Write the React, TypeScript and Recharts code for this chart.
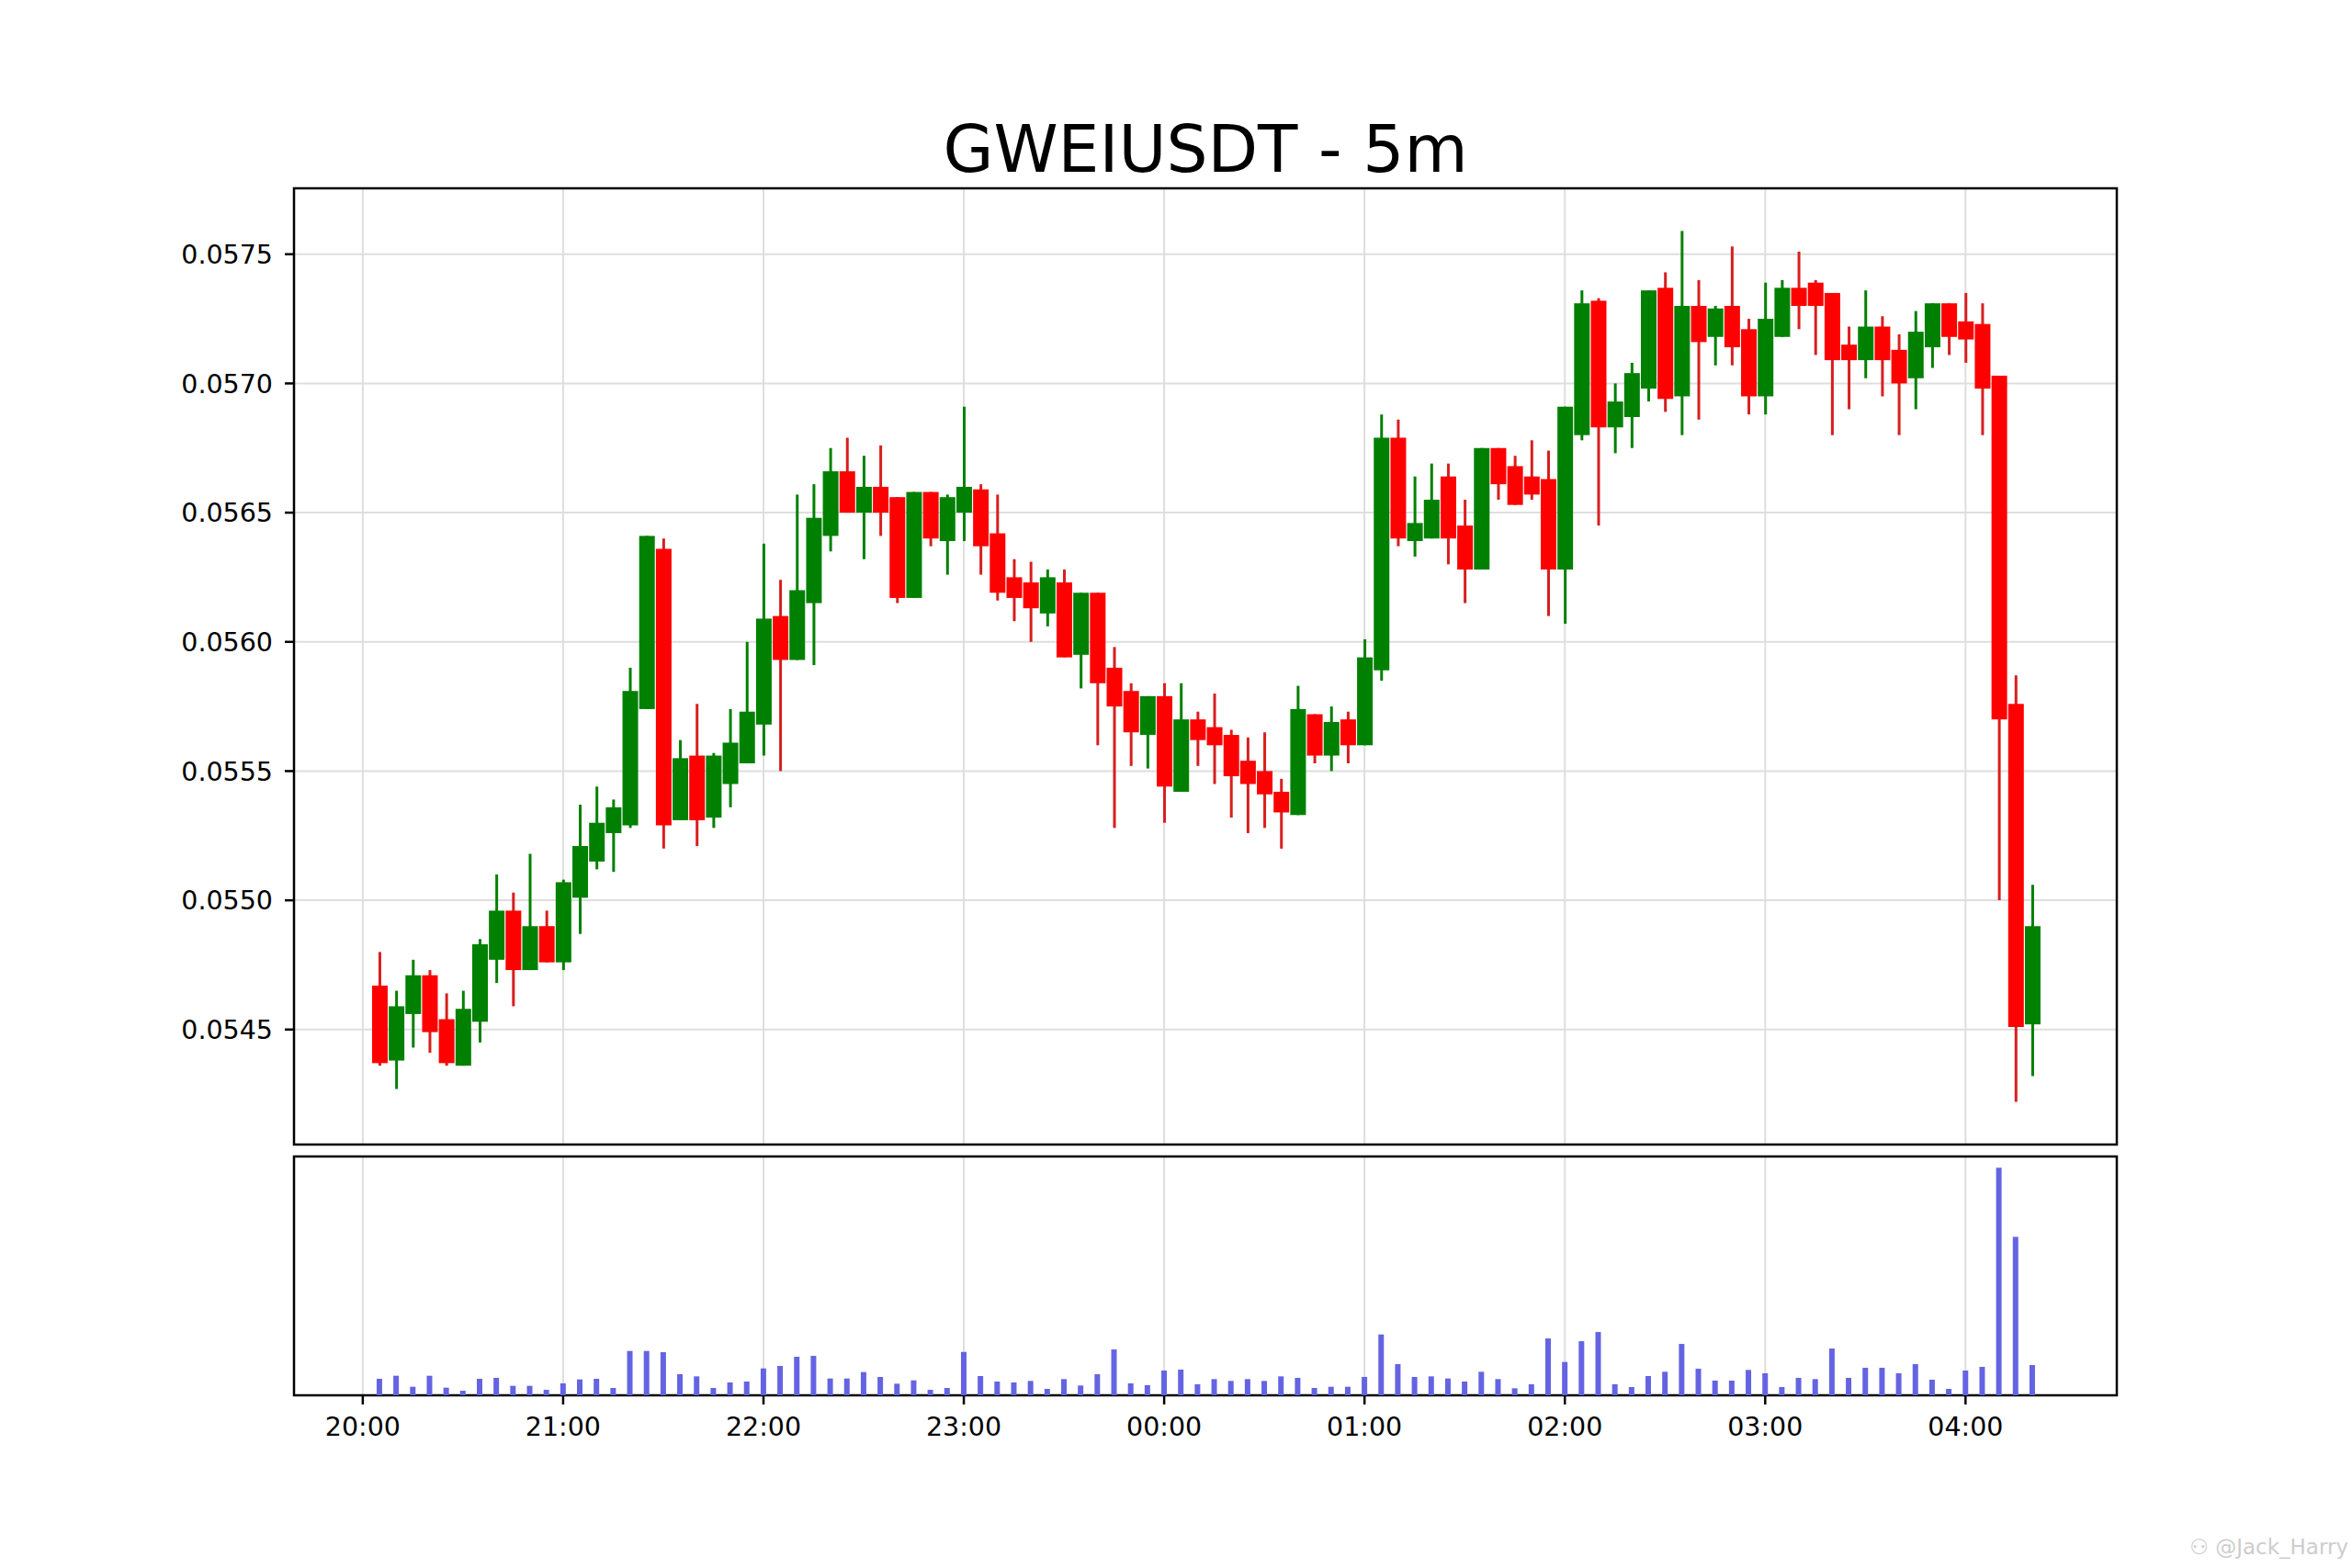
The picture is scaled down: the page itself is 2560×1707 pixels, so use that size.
import { ComposedChart, Bar, XAxis, YAxis, CartesianGrid, ReferenceArea } from 'recharts';

// 5-minute candles, 20:05 -> 04:20 (index 1..100)
const opens = [
  0.05467, 0.05438, 0.05456, 0.05471, 0.05454, 0.05436, 0.05453, 0.05477, 0.05496, 0.05473,
  0.05490, 0.05476, 0.05501, 0.05515, 0.05526, 0.05529, 0.05574, 0.05636, 0.05531, 0.05556,
  0.05532, 0.05545, 0.05553, 0.05568, 0.05610, 0.05593, 0.05615, 0.05641, 0.05666, 0.05650,
  0.05660, 0.05656, 0.05617, 0.05658, 0.05639, 0.05650, 0.05659, 0.05642, 0.05625, 0.05623,
  0.05611, 0.05623, 0.05595, 0.05619, 0.05590, 0.05581, 0.05564, 0.05579, 0.05542, 0.05570,
  0.05567, 0.05564, 0.05554, 0.05550, 0.05542, 0.05533, 0.05572, 0.05556, 0.05570, 0.05560,
  0.05589, 0.05679, 0.05639, 0.05640, 0.05664, 0.05645, 0.05628, 0.05675, 0.05668, 0.05664,
  0.05663, 0.05628, 0.05680, 0.05732, 0.05683, 0.05687, 0.05698, 0.05737, 0.05695, 0.05730,
  0.05718, 0.05730, 0.05721, 0.05695, 0.05718, 0.05737, 0.05739, 0.05735, 0.05715, 0.05709,
  0.05722, 0.05713, 0.05702, 0.05714, 0.05731, 0.05724, 0.05723, 0.05703, 0.05576, 0.05452,
];
const highs = [
  0.05480, 0.05465, 0.05477, 0.05473, 0.05464, 0.05465, 0.05485, 0.05510, 0.05503, 0.05518,
  0.05496, 0.05508, 0.05537, 0.05544, 0.05539, 0.05590, 0.05641, 0.05640, 0.05562, 0.05576,
  0.05557, 0.05574, 0.05600, 0.05638, 0.05624, 0.05657, 0.05661, 0.05675, 0.05679, 0.05672,
  0.05676, 0.05656, 0.05658, 0.05658, 0.05657, 0.05691, 0.05661, 0.05657, 0.05632, 0.05631,
  0.05628, 0.05628, 0.05619, 0.05619, 0.05598, 0.05584, 0.05579, 0.05584, 0.05584, 0.05573,
  0.05580, 0.05566, 0.05563, 0.05565, 0.05547, 0.05583, 0.05572, 0.05575, 0.05573, 0.05601,
  0.05688, 0.05686, 0.05664, 0.05669, 0.05669, 0.05655, 0.05675, 0.05675, 0.05672, 0.05678,
  0.05674, 0.05691, 0.05736, 0.05733, 0.05700, 0.05708, 0.05736, 0.05743, 0.05759, 0.05740,
  0.05730, 0.05753, 0.05725, 0.05739, 0.05740, 0.05751, 0.05740, 0.05735, 0.05722, 0.05736,
  0.05726, 0.05719, 0.05728, 0.05731, 0.05731, 0.05735, 0.05731, 0.05703, 0.05587, 0.05506,
];
const lows = [
  0.05436, 0.05427, 0.05443, 0.05441, 0.05436, 0.05436, 0.05445, 0.05468, 0.05459, 0.05473,
  0.05476, 0.05473, 0.05487, 0.05512, 0.05511, 0.05528, 0.05574, 0.05520, 0.05531, 0.05521,
  0.05528, 0.05536, 0.05553, 0.05556, 0.05550, 0.05593, 0.05591, 0.05635, 0.05650, 0.05632,
  0.05641, 0.05615, 0.05617, 0.05637, 0.05626, 0.05639, 0.05626, 0.05616, 0.05608, 0.05600,
  0.05606, 0.05594, 0.05582, 0.05560, 0.05528, 0.05552, 0.05551, 0.05530, 0.05542, 0.05552,
  0.05545, 0.05532, 0.05526, 0.05528, 0.05520, 0.05533, 0.05553, 0.05550, 0.05553, 0.05560,
  0.05585, 0.05637, 0.05633, 0.05640, 0.05630, 0.05615, 0.05628, 0.05655, 0.05653, 0.05655,
  0.05610, 0.05607, 0.05678, 0.05645, 0.05673, 0.05675, 0.05693, 0.05689, 0.05680, 0.05686,
  0.05707, 0.05707, 0.05688, 0.05688, 0.05718, 0.05721, 0.05711, 0.05680, 0.05690, 0.05702,
  0.05695, 0.05680, 0.05690, 0.05706, 0.05711, 0.05708, 0.05680, 0.05500, 0.05422, 0.05432,
];
const closes = [
  0.05437, 0.05459, 0.05471, 0.05449, 0.05437, 0.05458, 0.05483, 0.05496, 0.05473, 0.05490,
  0.05476, 0.05507, 0.05521, 0.05530, 0.05536, 0.05581, 0.05641, 0.05529, 0.05555, 0.05531,
  0.05556, 0.05561, 0.05573, 0.05609, 0.05593, 0.05620, 0.05648, 0.05666, 0.05650, 0.05660,
  0.05650, 0.05617, 0.05658, 0.05640, 0.05656, 0.05660, 0.05637, 0.05619, 0.05617, 0.05613,
  0.05625, 0.05594, 0.05619, 0.05584, 0.05575, 0.05565, 0.05579, 0.05544, 0.05570, 0.05562,
  0.05560, 0.05548, 0.05545, 0.05541, 0.05534, 0.05574, 0.05556, 0.05569, 0.05560, 0.05594,
  0.05679, 0.05640, 0.05646, 0.05655, 0.05640, 0.05628, 0.05675, 0.05661, 0.05653, 0.05657,
  0.05628, 0.05691, 0.05731, 0.05683, 0.05693, 0.05704, 0.05736, 0.05694, 0.05730, 0.05716,
  0.05729, 0.05714, 0.05695, 0.05725, 0.05737, 0.05730, 0.05730, 0.05709, 0.05709, 0.05722,
  0.05709, 0.05700, 0.05720, 0.05731, 0.05718, 0.05717, 0.05698, 0.05570, 0.05451, 0.05490,
];
const volumes = [
  54, 64, 28, 64, 25, 15, 54, 57, 31, 31,
  18, 39, 52, 54, 24, 145, 145, 141, 69, 62,
  24, 42, 45, 88, 96, 126, 129, 55, 55, 76,
  60, 38, 49, 18, 24, 142, 63, 45, 42, 47,
  21, 53, 32, 69, 150, 39, 33, 81, 84, 36,
  53, 47, 53, 47, 62, 57, 24, 28, 28, 60,
  199, 102, 60, 62, 55, 45, 77, 53, 23, 36,
  186, 109, 177, 207, 36, 27, 63, 77, 168, 87,
  48, 48, 83, 72, 27, 57, 53, 153, 57, 90,
  90, 72, 102, 51, 21, 81, 93, 744, 518, 99,
];

const tickIdx = [0, 12, 24, 36, 48, 60, 72, 84, 96];
const tickLabels = ['20:00', '21:00', '22:00', '23:00', '00:00', '01:00', '02:00', '03:00', '04:00'];
const priceTicks = [0.0545, 0.055, 0.0555, 0.056, 0.0565, 0.057, 0.0575];

const X_DOMAIN: [number, number] = [-4.12, 105.06];
const P_DOMAIN: [number, number] = [0.054055, 0.057755];
const V_DOMAIN: [number, number] = [0, 781];

const data = opens.map((o, i) => ({
  idx: i + 1,
  open: o,
  high: highs[i],
  low: lows[i],
  close: closes[i],
  volume: volumes[i],
}));

const UP = '#008000';
const DOWN = '#ff0000';
const DOWN_WICK = '#d81e1e';
const GRID = '#dedede';
const FONT = 'DejaVu Sans';
const RIGHT = 256;

const Candle = (props: any) => {
  const { x, y, width, height, payload } = props;
  const { open, close, high, low } = payload;
  const up = close >= open;
  const ratio = height / (high - low);
  const yOf = (p: number) => y + (high - p) * ratio;
  const cx = x + width / 2;
  const top = yOf(Math.max(open, close));
  const bot = yOf(Math.min(open, close));
  return (
    <g>
      <line x1={cx} x2={cx} y1={y} y2={y + height} stroke={up ? UP : DOWN_WICK} strokeWidth={3} />
      <rect x={x} y={top} width={width} height={Math.max(bot - top, 1)} fill={up ? UP : DOWN} />
    </g>
  );
};

// price panel has no x labels, but keeps its ticks for the vertical grid
const NoTick = () => <g />;

const App = () => {
  return (
    <div style={{ position: 'absolute', left: 0, top: 0, width: 2560, height: 1707, background: '#fff' }}>
      <div
        style={{
          position: 'absolute',
          left: 320,
          top: 127,
          width: 2560 - 320 - RIGHT,
          textAlign: 'center',
          fontFamily: FONT,
          fontSize: 71,
          lineHeight: '71px',
          color: '#000',
        }}
      >
        GWEIUSDT - 5m
      </div>

      <div style={{ position: 'absolute', left: 0, top: 0 }}>
        <ComposedChart width={2560} height={1250} data={data} margin={{ top: 205, right: RIGHT, bottom: 3, left: 0 }}>
          <CartesianGrid stroke={GRID} strokeWidth={2} />
          <XAxis
            dataKey="idx"
            type="number"
            domain={X_DOMAIN}
            allowDataOverflow
            ticks={tickIdx}
            tick={<NoTick />}
            tickLine={false}
            axisLine={false}
            height={1}
          />
          <YAxis
            type="number"
            domain={P_DOMAIN}
            allowDataOverflow
            ticks={priceTicks}
            width={320}
            axisLine={false}
            tickLine={{ stroke: '#000', strokeWidth: 2.5 }}
            tickSize={10}
            tickMargin={13}
            tickFormatter={(v: number) => v.toFixed(4)}
            tick={{ fontSize: 28.5, fill: '#000', fontFamily: FONT }}
          />
          <Bar
            dataKey={(d: any) => [d.low, d.high]}
            barSize={17}
            shape={<Candle />}
            isAnimationActive={false}
          />
          <ReferenceArea
            x1={X_DOMAIN[0]}
            x2={X_DOMAIN[1]}
            y1={P_DOMAIN[0]}
            y2={P_DOMAIN[1]}
            fill="none"
            stroke="#000"
            strokeWidth={2.5}
          />
        </ComposedChart>
      </div>

      <div style={{ position: 'absolute', left: 0, top: 1250 }}>
        <ComposedChart width={2560} height={457} data={data} margin={{ top: 9, right: RIGHT, bottom: 128, left: 320 }}>
          <CartesianGrid stroke={GRID} strokeWidth={2} horizontal={false} />
          <XAxis
            dataKey="idx"
            type="number"
            domain={X_DOMAIN}
            allowDataOverflow
            ticks={tickIdx}
            tickFormatter={(v: number) => tickLabels[tickIdx.indexOf(v)]}
            axisLine={false}
            tickLine={{ stroke: '#000', strokeWidth: 2.5 }}
            tickSize={10}
            tickMargin={14}
            height={60}
            tick={{ fontSize: 28.5, fill: '#000', fontFamily: FONT }}
          />
          <YAxis type="number" domain={V_DOMAIN} allowDataOverflow hide />
          <Bar dataKey="volume" fill="#6464e2" barSize={6} isAnimationActive={false} />
          <ReferenceArea
            x1={X_DOMAIN[0]}
            x2={X_DOMAIN[1]}
            y1={V_DOMAIN[0]}
            y2={V_DOMAIN[1]}
            fill="none"
            stroke="#000"
            strokeWidth={2.5}
          />
        </ComposedChart>
      </div>

      <div
        style={{
          position: 'absolute',
          right: 4,
          top: 1671,
          fontFamily: FONT,
          fontSize: 23,
          color: '#cdcdcd',
        }}
      >
        ⚇ @Jack_Harry
      </div>
    </div>
  );
};

export default App;
